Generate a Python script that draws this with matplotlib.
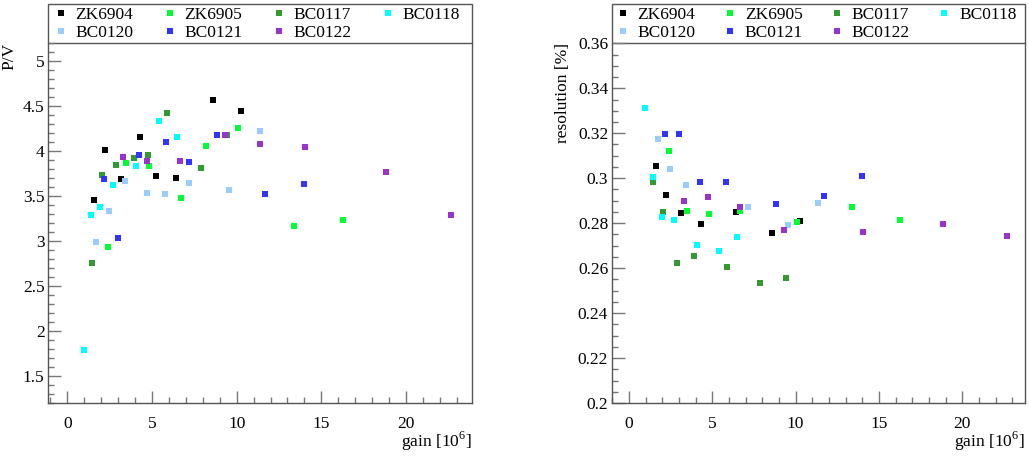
import numpy as np
import matplotlib
matplotlib.use("Agg")
import matplotlib.pyplot as plt
from matplotlib.patches import Rectangle
from matplotlib.ticker import MultipleLocator, FormatStrFormatter

plt.rcParams["font.family"] = ["Liberation Serif", "DejaVu Serif"]
plt.rcParams["mathtext.fontset"] = "custom"
plt.rcParams["mathtext.rm"] = "Liberation Serif"

# PMT names and marker colours
pmts = ["ZK6904", "ZK6905", "BC0117", "BC0118", "BC0120", "BC0121", "BC0122"]
colors = ["#000000", "#00ff30", "#339933", "#00ffff", "#99ccff", "#3333ff", "#9933cc"]

# gain [10^6] for each measured point
gain_zk6904 = [1.59, 2.23, 3.15, 4.31, 5.26, 6.40, 8.58, 10.24]
gain_zk6905 = [2.38, 3.48, 4.81, 6.69, 8.21, 10.09, 13.40, 16.26]
gain_bc0117 = [1.45, 2.02, 2.87, 3.93, 4.79, 5.88, 7.89, 9.43]
gain_bc0118 = [0.97, 1.41, 1.96, 2.71, 4.07, 5.40, 6.50]
gain_bc0120 = [1.72, 2.44, 3.41, 4.73, 5.77, 7.17, 9.57, 11.37]
gain_bc0121 = [2.14, 3.00, 4.25, 5.84, 7.21, 8.83, 11.69, 13.99]
gain_bc0122 = [3.31, 4.73, 6.66, 9.33, 11.40, 14.05, 18.84, 22.68]

# peak to valley ratio
pv_zk6904 = [3.452, 4.012, 3.686, 4.157, 3.72, 3.70, 4.566, 4.447]
pv_zk6905 = [2.936, 3.872, 3.834, 3.478, 4.053, 4.254, 3.17, 3.23]
pv_bc0117 = [2.754, 3.738, 3.85, 3.92, 3.953, 4.43, 3.816, 4.18]
pv_bc0118 = [1.79, 3.289, 3.382, 3.627, 3.838, 4.332, 4.16]
pv_bc0120 = [2.988, 3.337, 3.667, 3.53, 3.522, 3.649, 3.567, 4.22]
pv_bc0121 = [3.694, 3.037, 3.96, 4.10, 3.883, 4.176, 3.527, 3.638]
pv_bc0122 = [3.934, 3.894, 3.894, 4.18, 4.08, 4.046, 3.77, 3.29]

# SPE resolution (nan = point not visible in the plot)
res_zk6904 = [0.3052, 0.2924, 0.2844, 0.2794, np.nan, 0.2850, 0.2756, 0.2810]
res_zk6905 = [0.3123, 0.2852, 0.2839, 0.2855, np.nan, 0.2807, 0.2872, 0.2813]
res_bc0117 = [0.2985, 0.2850, 0.2621, 0.2652, np.nan, 0.2603, 0.2535, 0.2556]
res_bc0118 = [0.3312, 0.3004, 0.2827, 0.2813, 0.2704, 0.2674, 0.2739]
res_bc0120 = [0.3176, 0.3041, 0.2969, np.nan, np.nan, 0.2870, 0.2791, 0.2888]
res_bc0121 = [0.3196, 0.3196, 0.2982, 0.2982, np.nan, 0.2883, 0.2921, 0.3009]
res_bc0122 = [0.2899, 0.2917, 0.2870, 0.2769, np.nan, 0.2761, 0.2794, 0.2741]

gains = [gain_zk6904, gain_zk6905, gain_bc0117, gain_bc0118, gain_bc0120, gain_bc0121, gain_bc0122]
pvs = [pv_zk6904, pv_zk6905, pv_bc0117, pv_bc0118, pv_bc0120, pv_bc0121, pv_bc0122]
ress = [res_zk6904, res_zk6905, res_bc0117, res_bc0118, res_bc0120, res_bc0121, res_bc0122]

W, H = 1029, 457
fig = plt.figure(figsize=(W / 100, H / 100), dpi=100)

frame_col = "#555555"
# legend fills column by column, this gives row-wise reading order
leg_order = [0, 4, 1, 5, 2, 6, 3]
leg_h = 39 / 359.7  # legend box height above the frame, in axes units


def make_panel(rect, xlim, ylim, ymajor, yminor, ylabel, yvals, ylabelpad,
               leg_x, leg_cs):
    ax = fig.add_axes(rect)
    handles = []
    for name, col, g, v in zip(pmts, colors, gains, yvals):
        h, = ax.plot(g, v, "s", color=col, markersize=3.8, markeredgewidth=0, label=name)
        handles.append(h)
    ax.set_xlim(*xlim)
    ax.set_ylim(*ylim)
    for s in ["top", "right"]:
        ax.spines[s].set_visible(False)
    for s in ["left", "bottom"]:
        ax.spines[s].set_color(frame_col)
        ax.spines[s].set_linewidth(1.0)
    ax.plot([1, 1], [0, 1], transform=ax.transAxes, color=frame_col, lw=1.0, clip_on=False)
    ax.xaxis.set_major_locator(MultipleLocator(5))
    ax.xaxis.set_minor_locator(MultipleLocator(1))
    ax.yaxis.set_major_locator(MultipleLocator(ymajor))
    ax.yaxis.set_minor_locator(MultipleLocator(yminor))
    ax.yaxis.set_major_formatter(FormatStrFormatter("%g"))
    ax.tick_params(which="both", direction="in", color="#777777", width=1.0,
                   labelsize=12.5, top=False, right=False)
    ax.tick_params(axis="x", which="major", length=9, pad=9)
    ax.tick_params(axis="x", which="minor", length=4.5)
    ax.tick_params(axis="y", which="major", length=9, pad=2.5)
    ax.tick_params(axis="y", which="minor", length=4.5)
    ax.set_xlabel("gain [10$^6$]", loc="right", fontsize=12.5, labelpad=-1)
    ax.set_ylabel(ylabel, loc="top", fontsize=12.5, labelpad=ylabelpad)

    # legend box sits on top of the frame, full frame width
    ax.add_patch(Rectangle((0, 1), 1, leg_h, transform=ax.transAxes, facecolor="white",
                           edgecolor=frame_col, lw=1.0, clip_on=False))
    ax.legend([handles[i] for i in leg_order], [pmts[i] for i in leg_order],
              loc="center left", bbox_to_anchor=(leg_x, 1 + leg_h / 2),
              ncol=4, borderaxespad=0, borderpad=0, frameon=False,
              fontsize=12.5, handlelength=0.7, handletextpad=0.5,
              labelspacing=0.1, columnspacing=leg_cs)
    return ax


make_panel([48 / W, 54 / H, 423.7 / W, 359.7 / H], (-1.14, 23.88), (1.2, 5.2),
           0.5, 0.1, "P/V", pvs, 4, 6.7 / 423.7, 1.74)
make_panel([611.7 / W, 54 / H, 413.3 / W, 359.7 / H], (-1.04, 23.77), (0.2, 0.36),
           0.02, 0.005, "resolution [%]", ress, 5, 5 / 413.3, 1.63)

fig.savefig("out.png", dpi=100)
